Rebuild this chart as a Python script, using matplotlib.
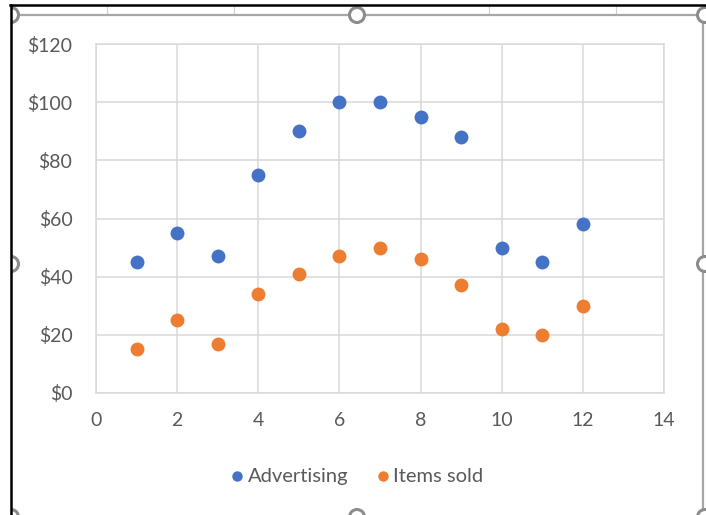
import matplotlib
matplotlib.use('Agg')
import matplotlib.pyplot as plt
from matplotlib.lines import Line2D
from matplotlib.patches import Circle, Rectangle

# monthly figures
months = [1, 2, 3, 4, 5, 6, 7, 8, 9, 10, 11, 12]
advertising = [45, 55, 47, 75, 90, 100, 100, 95, 88, 50, 45, 58]
items_sold = [15, 25, 17, 34, 41, 47, 50, 46, 37, 22, 20, 30]

x_ticks = [0, 2, 4, 6, 8, 10, 12, 14]
y_ticks = [0, 20, 40, 60, 80, 100, 120]
y_labels = ['$' + str(v) for v in y_ticks]

blue = '#4472C4'
orange = '#ED7D31'
grid_col = '#D9D9D9'
text_col = '#595959'

plt.rcParams['font.family'] = ['Lato', 'DejaVu Sans']

W, H = 706, 515
fig = plt.figure(figsize=(W / 100, H / 100), dpi=100)
fig.patch.set_facecolor('white')

ax = fig.add_axes([96 / W, 1 - 393 / H, (664 - 96) / W, (393 - 44) / H])
ax.scatter(months, advertising, s=100, color=blue, linewidths=0, label='Advertising', zorder=3)
ax.scatter(months, items_sold, s=100, color=orange, linewidths=0, label='Items sold', zorder=3)

ax.set_xlim(0, 14)
ax.set_ylim(0, 120)
ax.set_xticks(x_ticks)
ax.set_yticks(y_ticks)
ax.set_yticklabels(y_labels)
ax.tick_params(length=0, labelsize=14, labelcolor=text_col)
ax.tick_params(axis='y', pad=17)
ax.tick_params(axis='x', pad=14)
ax.grid(True, color=grid_col, linewidth=1.1)
ax.set_axisbelow(True)
for sp in ax.spines.values():
    sp.set_color(grid_col)
    sp.set_linewidth(1.1)

leg = ax.legend(loc='center', bbox_to_anchor=(356 / W, 1 - 476 / H),
                bbox_transform=fig.transFigure, ncol=2, frameon=False,
                markerscale=0.75, handletextpad=0.05, handlelength=0.9,
                columnspacing=1.3, fontsize=14.5)
for t in leg.get_texts():
    t.set_color(text_col)

# worksheet behind the chart: cell borders above the chart frame
for cx in [107, 234, 489, 616]:
    fig.add_artist(Line2D([cx / W, cx / W], [1 - 5 / H, 1 - 15 / H], color='#D0D0D0', lw=0.8))

# chart frame (selected state)
frame = '#A6A6A6'
fig.add_artist(Line2D([11 / W, 705 / W], [1 - 15 / H, 1 - 15 / H], color=frame, lw=1.6))
fig.add_artist(Line2D([703 / W, 703 / W], [1 - 15 / H, 0], color=frame, lw=1.6))

handles = [(11, 15), (357, 15), (705, 15), (11, 264), (705, 264),
           (11, 517), (357, 517), (705, 517)]
for hx, hy in handles:
    c = Circle((hx, H - hy), 7.5, transform=None, facecolor='white',
               edgecolor='#8C8C8C', lw=2.2, zorder=5)
    fig.add_artist(c)

# window edge: blank strip on the left, black border lines
fig.add_artist(Rectangle((0, 0), 10.5 / W, 1, transform=fig.transFigure,
                         facecolor='white', edgecolor='none', zorder=6))
fig.add_artist(Rectangle((0, 1 - 4.5 / H), 1, 4.5 / H, transform=fig.transFigure,
                         facecolor='white', edgecolor='none', zorder=6))
fig.add_artist(Line2D([11 / W, 11 / W], [0, 1 - 5 / H], color='black', lw=1.8, zorder=7))
fig.add_artist(Line2D([10 / W, 1], [1 - 5 / H, 1 - 5 / H], color='black', lw=1.8, zorder=7))

fig.savefig('out.png', dpi=100)
